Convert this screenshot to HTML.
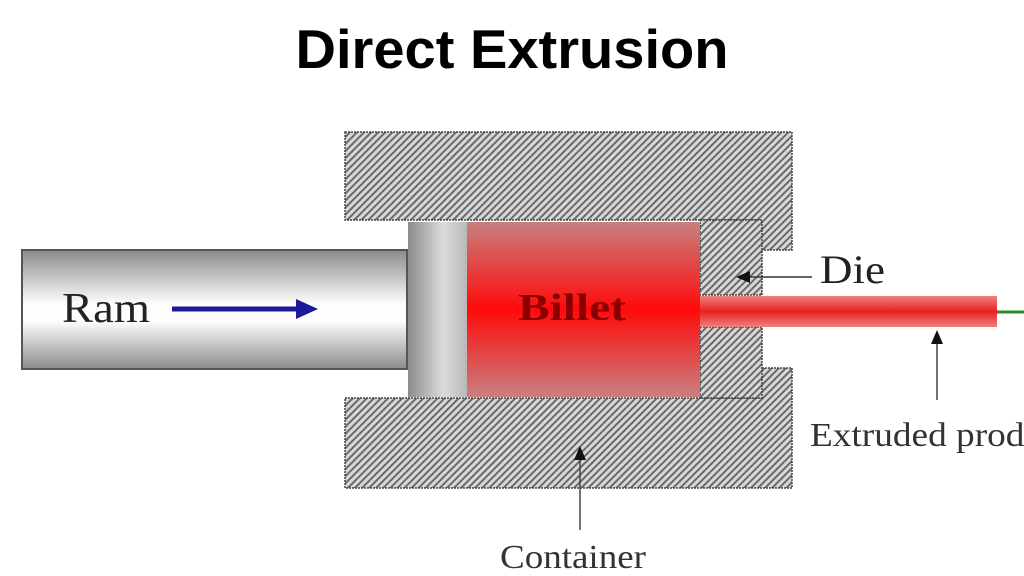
<!DOCTYPE html>
<html><head><meta charset="utf-8"><style>
html,body{margin:0;padding:0;background:#fff;width:1024px;height:576px;overflow:hidden}
</style></head><body>
<svg width="1024" height="576" viewBox="0 0 1024 576" xmlns="http://www.w3.org/2000/svg">
<defs>
<pattern id="h" width="5" height="5" patternUnits="userSpaceOnUse" patternTransform="rotate(45)">
<rect width="5" height="5" fill="#d8d8d8"/><rect width="2" height="5" fill="#6a6a6a"/>
</pattern>
<linearGradient id="ram" x1="0" y1="0" x2="0" y2="1">
<stop offset="0" stop-color="#8a8a8a"/><stop offset="0.45" stop-color="#fdfdfd"/><stop offset="0.6" stop-color="#fdfdfd"/><stop offset="1" stop-color="#8a8a8a"/>
</linearGradient>
<linearGradient id="head" x1="0" y1="0" x2="1" y2="0">
<stop offset="0" stop-color="#8c8c8c"/><stop offset="0.6" stop-color="#dcdcdc"/><stop offset="1" stop-color="#b8b8b8"/>
</linearGradient>
<linearGradient id="bil" x1="0" y1="0" x2="0" y2="1">
<stop offset="0" stop-color="#c88080"/><stop offset="0.5" stop-color="#ff0a0a"/><stop offset="1" stop-color="#c88080"/>
</linearGradient>
<linearGradient id="prod" x1="0" y1="0" x2="0" y2="1">
<stop offset="0" stop-color="#f08080"/><stop offset="0.5" stop-color="#e82020"/><stop offset="1" stop-color="#f08080"/>
</linearGradient>
</defs>
<text x="512" y="68" text-anchor="middle" font-family="Liberation Sans, sans-serif" font-weight="bold" font-size="55" textLength="433" lengthAdjust="spacingAndGlyphs">Direct Extrusion</text>
<path d="M345 132 H792 V250 H760 V220 H345 Z" fill="url(#h)" stroke="#444" stroke-width="1.5" stroke-dasharray="2 1"/>
<path d="M345 398 H760 V368 H792 V488 H345 Z" fill="url(#h)" stroke="#444" stroke-width="1.5" stroke-dasharray="2 1"/>
<path d="M700 220 H762 V295 H700 Z M700 327 H762 V398 H700 Z" fill="url(#h)" stroke="#444" stroke-width="1.5" stroke-dasharray="2 1"/>
<rect x="22" y="250" width="385" height="119" fill="url(#ram)" stroke="#555" stroke-width="2"/>
<rect x="408" y="222" width="59" height="175" fill="url(#head)"/>
<rect x="467" y="222" width="233" height="175" fill="url(#bil)"/>
<rect x="700" y="296" width="297" height="31" fill="url(#prod)"/>
<line x1="997" y1="312" x2="1024" y2="312" stroke="#2a8a2a" stroke-width="3"/>
<text x="518" y="320" font-family="Liberation Serif, serif" font-weight="bold" font-size="38" fill="#8a0000" textLength="108" lengthAdjust="spacingAndGlyphs">Billet</text>
<text x="62" y="322" font-family="Liberation Serif, serif" font-size="42" fill="#222" textLength="88" lengthAdjust="spacingAndGlyphs">Ram</text>
<line x1="172" y1="309" x2="300" y2="309" stroke="#1a1a9a" stroke-width="5"/>
<path d="M296 299 L318 309 L296 319 Z" fill="#1a1a9a"/>
<line x1="745" y1="277" x2="812" y2="277" stroke="#333" stroke-width="1.5"/>
<path d="M736 277 L750 271 L750 283 Z" fill="#111"/>
<text x="820" y="283" font-family="Liberation Serif, serif" font-size="40" fill="#222" textLength="65" lengthAdjust="spacingAndGlyphs">Die</text>
<line x1="937" y1="340" x2="937" y2="400" stroke="#444" stroke-width="1.5"/>
<path d="M937 330 L931 344 L943 344 Z" fill="#111"/>
<text x="810" y="446" font-family="Liberation Serif, serif" font-size="34" fill="#333" textLength="260" lengthAdjust="spacingAndGlyphs">Extruded product</text>
<line x1="580" y1="455" x2="580" y2="530" stroke="#444" stroke-width="1.5"/>
<path d="M580 446 L574 460 L586 460 Z" fill="#111"/>
<text x="500" y="568" font-family="Liberation Serif, serif" font-size="34" fill="#333" textLength="146" lengthAdjust="spacingAndGlyphs">Container</text>
</svg>
</body></html>
